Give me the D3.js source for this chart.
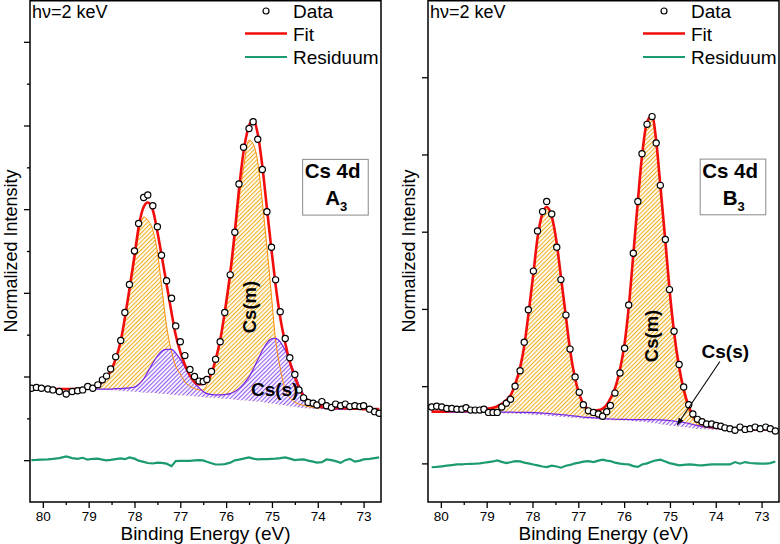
<!DOCTYPE html>
<html>
<head>
<meta charset="utf-8">
<script src="https://cdn.jsdelivr.net/npm/d3@7"></script>
<style>
  body { margin: 0; background: #fff; }
  svg { font-family: "Liberation Sans", Arial, sans-serif; }
</style>
</head>
<body>
<svg id="chart" width="780" height="544"></svg>
<script>
// ---- x axis (binding energy, eV) ----
var X_DOMAIN = [80.28, 72.62];
var X_MAJOR = [80, 79, 78, 77, 76, 75, 74, 73];
var X_MINOR = [79.5, 78.5, 77.5, 76.5, 75.5, 74.5, 73.5];

// ---- panel A3 ----
var ENERGY_A = [
  80.25, 80.14, 80.03, 79.89, 79.78, 79.64, 79.49, 79.36, 79.24, 79.13,
  79.02, 78.91, 78.80, 78.70, 78.61, 78.52, 78.41, 78.30, 78.21, 78.11,
  78.00, 77.91, 77.80, 77.71, 77.60, 77.50, 77.41, 77.30, 77.19, 77.10,
  77.00, 76.90, 76.79, 76.69, 76.59, 76.50, 76.42, 76.32, 76.23, 76.13,
  76.03, 75.91, 75.81, 75.72, 75.62, 75.50, 75.41, 75.31, 75.21, 75.11,
  75.01, 74.92, 74.82, 74.71, 74.61, 74.50, 74.41, 74.31, 74.21, 74.10,
  74.02, 73.91, 73.81, 73.70, 73.61, 73.50, 73.40, 73.30, 73.19, 73.08,
  73.00, 72.87, 72.76, 72.66];
var COUNTS_A = [
  2.72, 2.74, 2.72, 2.70, 2.68, 2.64, 2.58, 2.64, 2.66, 2.68,
  2.76, 2.72, 2.80, 2.92, 3.01, 3.18, 3.47, 3.86, 4.53, 5.20,
  6.00, 6.66, 7.28, 7.34, 7.08, 6.58, 5.90, 5.29, 4.87, 4.21,
  3.83, 3.50, 3.17, 3.00, 2.89, 2.88, 2.93, 3.12, 3.41, 3.83,
  4.53, 5.43, 6.45, 7.60, 8.48, 8.93, 9.09, 8.67, 7.95, 6.94,
  6.09, 5.31, 4.55, 3.91, 3.45, 3.05, 2.68, 2.49, 2.38, 2.36,
  2.32, 2.40, 2.30, 2.26, 2.34, 2.30, 2.34, 2.28, 2.30, 2.28,
  2.30, 2.22, 2.16, 2.12];
var FIT_A = [
  2.70, 2.70, 2.70, 2.70, 2.70, 2.70, 2.70, 2.70, 2.71, 2.72,
  2.73, 2.75, 2.79, 2.87, 2.99, 3.13, 3.42, 3.85, 4.40, 5.09,
  5.88, 6.57, 7.05, 7.16, 6.98, 6.46, 5.91, 5.21, 4.52, 3.99,
  3.59, 3.28, 3.02, 2.87, 2.81, 2.82, 2.89, 3.08, 3.40, 3.87,
  4.54, 5.48, 6.46, 7.46, 8.37, 8.99, 9.13, 8.80, 8.03, 7.03,
  6.02, 5.19, 4.42, 3.80, 3.35, 2.99, 2.73, 2.53, 2.42, 2.34,
  2.31, 2.28, 2.27, 2.26, 2.25, 2.25, 2.24, 2.24, 2.23, 2.23,
  2.22, 2.22, 2.22, 2.22];
var BG_A = [
  2.70, 2.70, 2.70, 2.70, 2.70, 2.70, 2.70, 2.70, 2.70, 2.70,
  2.70, 2.70, 2.70, 2.69, 2.69, 2.68, 2.67, 2.66, 2.65, 2.65,
  2.64, 2.63, 2.62, 2.61, 2.61, 2.60, 2.59, 2.58, 2.57, 2.56,
  2.55, 2.55, 2.54, 2.53, 2.52, 2.51, 2.50, 2.50, 2.49, 2.48,
  2.47, 2.46, 2.45, 2.44, 2.43, 2.42, 2.41, 2.40, 2.39, 2.37,
  2.36, 2.34, 2.33, 2.31, 2.29, 2.28, 2.26, 2.25, 2.24, 2.23,
  2.23, 2.22, 2.22, 2.22, 2.22, 2.22, 2.22, 2.22, 2.22, 2.22,
  2.22, 2.22, 2.22, 2.22];
// Cs(m) component on top of background
var CSM_A = [
  2.70, 2.70, 2.70, 2.70, 2.70, 2.70, 2.70, 2.70, 2.70, 2.70,
  2.71, 2.73, 2.76, 2.85, 2.96, 3.11, 3.40, 3.80, 4.33, 5.01,
  5.76, 6.40, 6.81, 6.74, 6.50, 5.98, 5.19, 4.21, 3.59, 3.25,
  3.06, 2.87, 2.77, 2.71, 2.68, 2.68, 2.80, 3.01, 3.32, 3.80,
  4.45, 5.33, 6.26, 7.20, 7.99, 8.65, 8.56, 8.13, 7.17, 6.10,
  4.93, 3.87, 3.20, 2.68, 2.49, 2.39, 2.34, 2.31, 2.28, 2.26,
  2.25, 2.24, 2.23, 2.22, 2.22, 2.22, 2.22, 2.22, 2.22, 2.22,
  2.22, 2.22, 2.22, 2.22];
// Cs(s) component on top of background
var CSS_A = [
  2.70, 2.70, 2.70, 2.70, 2.70, 2.70, 2.70, 2.70, 2.70, 2.70,
  2.70, 2.70, 2.70, 2.70, 2.70, 2.70, 2.71, 2.71, 2.72, 2.73,
  2.75, 2.81, 2.94, 3.11, 3.32, 3.49, 3.60, 3.65, 3.65, 3.56,
  3.41, 3.23, 3.01, 2.85, 2.73, 2.64, 2.59, 2.57, 2.56, 2.56,
  2.57, 2.59, 2.64, 2.71, 2.82, 2.99, 3.17, 3.40, 3.62, 3.80,
  3.90, 3.91, 3.83, 3.63, 3.37, 3.06, 2.80, 2.58, 2.44, 2.33,
  2.28, 2.25, 2.23, 2.22, 2.22, 2.22, 2.22, 2.22, 2.22, 2.22,
  2.22, 2.22, 2.22, 2.22];
var RESID_A = [
  0, 0.005, 0.014, 0.017, 0.029, 0.048, 0.091, 0.048, 0.031, 0.057,
  0.012, 0.033, 0.036, 0.012, -0.005, 0.005, 0.024, 0.041, 0.024, 0.065,
  0.036, -0.012, -0.041, -0.067, -0.079, -0.060, -0.065, -0.084, -0.143, -0.024,
  -0.017, -0.019, -0.017, -0.007, 0, -0.005, -0.036, -0.072, -0.103, -0.103,
  -0.096, -0.060, -0.005, 0.012, 0.036, 0.065, 0.036, 0.017, 0.024, 0.024,
  0.031, 0.036, 0.048, 0.065, 0.036, 0, 0.012, 0.017, -0.012, -0.036,
  -0.060, -0.048, 0.017, 0, -0.024, -0.065, 0, 0.031, -0.036, -0.012,
  0.017, 0.031, 0.048, 0.065];
var RESID_OFFSET_A = 1;
var Y_DOMAIN_A = [0, 12];
var Y_MAJOR_A = [1, 3, 5, 7, 9, 11];
var Y_MINOR_A = [2, 4, 6, 8, 10];

// ---- panel B3 ----
var ENERGY_B = [
  80.20, 80.09, 79.98, 79.87, 79.76, 79.65, 79.54, 79.45, 79.35, 79.25,
  79.15, 79.06, 78.96, 78.86, 78.77, 78.67, 78.57, 78.48, 78.38, 78.27,
  78.18, 78.09, 77.98, 77.89, 77.78, 77.69, 77.58, 77.47, 77.38, 77.27,
  77.18, 77.07, 76.98, 76.89, 76.78, 76.67, 76.56, 76.47, 76.38, 76.30,
  76.20, 76.09, 75.99, 75.90, 75.80, 75.70, 75.61, 75.50, 75.39, 75.30,
  75.21, 75.10, 75.01, 74.91, 74.80, 74.70, 74.59, 74.50, 74.40, 74.30,
  74.20, 74.09, 73.99, 73.89, 73.80, 73.69, 73.58, 73.47, 73.36, 73.25,
  73.14, 73.03, 72.91, 72.81, 72.70];
var COUNTS_B = [
  0.73, 0.74, 0.73, 0.71, 0.71, 0.70, 0.70, 0.72, 0.69, 0.69,
  0.69, 0.70, 0.66, 0.66, 0.66, 0.73, 0.78, 0.83, 1.00, 1.20,
  1.57, 1.99, 2.49, 3.01, 3.26, 3.39, 3.23, 2.80, 2.38, 1.92,
  1.48, 1.12, 0.92, 0.76, 0.68, 0.66, 0.64, 0.61, 0.67, 0.75,
  0.91, 1.17, 1.49, 2.05, 2.72, 3.39, 4.01, 4.39, 4.49, 4.15,
  3.60, 2.90, 2.25, 1.71, 1.28, 0.99, 0.76, 0.64, 0.57, 0.54,
  0.51, 0.51, 0.49, 0.48, 0.46, 0.45, 0.43, 0.47, 0.44, 0.45,
  0.47, 0.45, 0.47, 0.45, 0.42];
var FIT_B = [
  0.67, 0.67, 0.67, 0.67, 0.68, 0.68, 0.68, 0.68, 0.68, 0.69,
  0.69, 0.70, 0.71, 0.72, 0.74, 0.77, 0.82, 0.88, 1.02, 1.24,
  1.52, 1.92, 2.46, 2.92, 3.24, 3.32, 3.20, 2.85, 2.42, 1.90,
  1.47, 1.10, 0.90, 0.77, 0.70, 0.68, 0.69, 0.71, 0.76, 0.84,
  0.97, 1.22, 1.55, 2.02, 2.70, 3.40, 3.98, 4.42, 4.50, 4.18,
  3.60, 2.88, 2.26, 1.70, 1.25, 0.96, 0.74, 0.62, 0.55, 0.51,
  0.49, 0.475, 0.465, 0.46, 0.455, 0.45, 0.45, 0.445, 0.445, 0.445,
  0.44, 0.44, 0.44, 0.44, 0.44];
var BG_B = [
  0.66, 0.66, 0.66, 0.66, 0.66, 0.66, 0.66, 0.66, 0.66, 0.66,
  0.66, 0.66, 0.655, 0.655, 0.65, 0.65, 0.65, 0.645, 0.645, 0.64,
  0.64, 0.635, 0.63, 0.63, 0.625, 0.62, 0.615, 0.61, 0.605, 0.60,
  0.595, 0.59, 0.585, 0.58, 0.578, 0.575, 0.572, 0.57, 0.567, 0.563,
  0.56, 0.557, 0.555, 0.552, 0.548, 0.543, 0.538, 0.532, 0.525, 0.518,
  0.51, 0.50, 0.492, 0.485, 0.477, 0.47, 0.462, 0.456, 0.45, 0.445,
  0.442, 0.44, 0.438, 0.437, 0.436, 0.435, 0.435, 0.435, 0.435, 0.435,
  0.435, 0.435, 0.435, 0.435, 0.435];
var CSM_B = [
  0.665, 0.665, 0.665, 0.665, 0.675, 0.675, 0.675, 0.675, 0.675, 0.685,
  0.685, 0.695, 0.70, 0.71, 0.725, 0.755, 0.805, 0.86, 1.00, 1.22,
  1.50, 1.895, 2.43, 2.895, 3.21, 3.29, 3.17, 2.82, 2.39, 1.87,
  1.445, 1.08, 0.88, 0.75, 0.683, 0.665, 0.677, 0.70, 0.75, 0.828,
  0.958, 1.207, 1.535, 2.004, 2.68, 3.376, 3.95, 4.385, 4.46, 4.13,
  3.55, 2.82, 2.20, 1.64, 1.19, 0.90, 0.685, 0.573, 0.51, 0.477,
  0.464, 0.455, 0.451, 0.451, 0.449, 0.446, 0.448, 0.444, 0.445, 0.445,
  0.44, 0.44, 0.44, 0.44, 0.44];
var CSS_B = [
  0.665, 0.665, 0.665, 0.665, 0.665, 0.665, 0.665, 0.665, 0.665, 0.665,
  0.665, 0.665, 0.665, 0.665, 0.665, 0.665, 0.665, 0.665, 0.662, 0.66,
  0.66, 0.66, 0.658, 0.655, 0.652, 0.648, 0.643, 0.637, 0.632, 0.627,
  0.62, 0.613, 0.607, 0.60, 0.595, 0.59, 0.585, 0.58, 0.577, 0.575,
  0.572, 0.57, 0.57, 0.568, 0.567, 0.567, 0.567, 0.567, 0.566, 0.565,
  0.563, 0.56, 0.555, 0.548, 0.54, 0.53, 0.517, 0.503, 0.49, 0.478,
  0.468, 0.46, 0.452, 0.446, 0.442, 0.439, 0.437, 0.436, 0.435, 0.435,
  0.435, 0.435, 0.435, 0.435, 0.435];
var RESID_B = [
  -0.05, -0.045, -0.038, -0.03, -0.022, -0.013, -0.012, -0.008, -0.006, -0.004,
  0.0, 0.008, 0.017, 0.025, 0.039, 0.02, 0.004, 0.015, 0.028, 0.025,
  0.01, 0.0, -0.015, -0.026, -0.04, -0.048, -0.03, -0.04, -0.056, -0.03,
  -0.02, 0.0, 0.01, 0.022, 0.03, 0.017, 0.035, 0.048, 0.035, 0.03,
  0.01, -0.004, -0.01, -0.013, -0.035, -0.045, -0.015, 0.0, 0.025, 0.04,
  0.048, 0.025, 0.004, -0.01, -0.026, -0.02, -0.013, -0.015, -0.022, -0.026,
  -0.02, -0.013, -0.013, -0.013, -0.013, -0.013, 0.017, -0.004, 0.017, 0.005,
  0.0, -0.004, -0.004, 0.004, 0.025];
var RESID_OFFSET_B = 0;
var Y_DOMAIN_B = [-0.5, 6];
var Y_MAJOR_B = [0, 1, 2, 3, 4, 5];
var Y_MINOR_B = [];

// annotation anchors, in data coordinates [eV, intensity]
var NOTE_A = { box: [74.33, 8.19], sample: "A", csm: [75.35, 4.66], css: [74.94, 2.53], cssAnchor: "middle", arrow: null };
var NOTE_B = { box: [74.34, 3.94], sample: "B", csm: [75.25, 1.65], css: [74.31, 1.36], cssAnchor: "start", arrow: [[73.91, 1.32], [74.84, 0.50]] };

// ---- layout ----
var W = 351, H = 502, TOP = 0;
var colors = {
  fit: "#f20d0d", resid: "#1c9c6c",
  mHatch: "#f0ae1c", mLine: "#ff8a00",
  sHatch: "#8d55f2", sLine: "#7424e6"
};

var panels = [
  { left: 30, E: ENERGY_A, I: COUNTS_A, fit: FIT_A, bg: BG_A, csm: CSM_A, css: CSS_A,
    res: RESID_A, resOff: RESID_OFFSET_A, yDom: Y_DOMAIN_A, yMajor: Y_MAJOR_A, yMinor: Y_MINOR_A, note: NOTE_A },
  { left: 428, E: ENERGY_B, I: COUNTS_B, fit: FIT_B, bg: BG_B, csm: CSM_B, css: CSS_B,
    res: RESID_B, resOff: RESID_OFFSET_B, yDom: Y_DOMAIN_B, yMajor: Y_MAJOR_B, yMinor: Y_MINOR_B, note: NOTE_B }
];

var svg = d3.select("#chart");
var defs = svg.append("defs");

function hatch(id, color) {
  var p = defs.append("pattern").attr("id", id)
      .attr("patternUnits", "userSpaceOnUse")
      .attr("width", 3).attr("height", 3)
      .attr("patternTransform", "rotate(-45)");
  p.append("rect").attr("width", 3).attr("height", 3).attr("fill", "#fff");
  p.append("line").attr("x1", 0).attr("x2", 3).attr("y1", 0.6).attr("y2", 0.6)
      .attr("stroke", color).attr("stroke-width", 1.1);
}
hatch("hatchM", colors.mHatch);
hatch("hatchS", colors.sHatch);

defs.append("marker").attr("id", "arrowhead")
    .attr("viewBox", "0 0 10 10").attr("refX", 9).attr("refY", 5)
    .attr("markerWidth", 7).attr("markerHeight", 7).attr("orient", "auto")
  .append("path").attr("d", "M0,1.5 L10,5 L0,8.5 Z").attr("fill", "#000");

panels.forEach(function (p, k) {
  var x = d3.scaleLinear().domain(X_DOMAIN).range([p.left, p.left + W]);
  var y = d3.scaleLinear().domain(p.yDom).range([TOP + H, TOP]);
  var idx = d3.range(p.E.length);

  defs.append("clipPath").attr("id", "clip" + k)
    .append("rect").attr("x", p.left).attr("y", TOP).attr("width", W).attr("height", H);
  var plot = svg.append("g").attr("clip-path", "url(#clip" + k + ")");

  var areaOf = function (top) {
    return d3.area().curve(d3.curveMonotoneX)
      .x(function (i) { return x(p.E[i]); })
      .y0(function (i) { return y(p.bg[i]); })
      .y1(function (i) { return y(top[i]); });
  };
  var lineOf = function (vals) {
    return d3.line().curve(d3.curveMonotoneX)
      .x(function (i) { return x(p.E[i]); })
      .y(function (i) { return y(vals[i]); });
  };

  // components: Cs(m) under Cs(s), both hatched
  plot.append("path").datum(idx).attr("d", areaOf(p.csm)).attr("fill", "url(#hatchM)");
  plot.append("path").datum(idx).attr("d", areaOf(p.css)).attr("fill", "url(#hatchS)");
  plot.append("path").datum(idx).attr("d", lineOf(p.csm)).attr("fill", "none")
      .attr("stroke", colors.mLine).attr("stroke-width", 1);
  plot.append("path").datum(idx).attr("d", lineOf(p.css)).attr("fill", "none")
      .attr("stroke", colors.sLine).attr("stroke-width", 1.2);

  // fit
  plot.append("path").datum(idx).attr("d", lineOf(p.fit)).attr("fill", "none")
      .attr("stroke", colors.fit).attr("stroke-width", 2.6);

  // residual
  plot.append("path").datum(idx)
      .attr("d", d3.line().x(function (i) { return x(p.E[i]); })
                          .y(function (i) { return y(p.res[i] + p.resOff); }))
      .attr("fill", "none").attr("stroke", colors.resid).attr("stroke-width", 2.2);

  // data
  plot.selectAll("circle.pt").data(idx).enter().append("circle").attr("class", "pt")
      .attr("cx", function (i) { return x(p.E[i]); })
      .attr("cy", function (i) { return y(p.I[i]); })
      .attr("r", 3.1).attr("fill", "#fff").attr("stroke", "#000").attr("stroke-width", 1.2);

  // axes
  var g = svg.append("g");
  var xa = g.append("g").attr("transform", "translate(0," + (TOP + H) + ")")
      .call(d3.axisBottom(x).tickValues(X_MAJOR).tickSize(6).tickPadding(3).tickFormat(d3.format("d")));
  g.append("g").attr("transform", "translate(0," + (TOP + H) + ")")
      .call(d3.axisBottom(x).tickValues(X_MINOR).tickSize(3).tickFormat(""));
  g.append("g").attr("transform", "translate(" + p.left + ",0)")
      .call(d3.axisLeft(y).tickValues(p.yMajor).tickSize(6).tickFormat(""));
  g.append("g").attr("transform", "translate(" + p.left + ",0)")
      .call(d3.axisLeft(y).tickValues(p.yMinor).tickSize(3).tickFormat(""));
  g.selectAll(".domain").remove();
  g.selectAll(".tick line").attr("stroke", "#000").attr("stroke-width", 1.3);
  xa.selectAll("text").attr("font-size", "13.5px").attr("fill", "#000")
      .attr("font-family", "Liberation Sans, Arial, sans-serif");

  svg.append("rect").attr("x", p.left).attr("y", TOP + 0.75).attr("width", W).attr("height", H - 0.75)
      .attr("fill", "none").attr("stroke", "#000").attr("stroke-width", 1.5);

  // axis titles
  svg.append("text").attr("x", p.left + W / 2).attr("y", 540).attr("text-anchor", "middle")
      .attr("font-size", "19px").text("Binding Energy (eV)");
  svg.append("text").attr("transform", "translate(" + (p.left - 13.5) + ",251) rotate(-90)")
      .attr("text-anchor", "middle").attr("font-size", "18px").text("Normalized Intensity");

  // photon energy
  svg.append("text").attr("x", p.left + 2).attr("y", 18).attr("font-size", "18px").text("h\u03bd=2 keV");

  // legend
  var lg = svg.append("g").attr("transform", "translate(" + p.left + ",0)").attr("font-size", "19px");
  lg.append("circle").attr("cx", 236).attr("cy", 11).attr("r", 3)
      .attr("fill", "#fff").attr("stroke", "#000").attr("stroke-width", 1.2);
  lg.append("line").attr("x1", 215).attr("x2", 257).attr("y1", 33.5).attr("y2", 33.5)
      .attr("stroke", colors.fit).attr("stroke-width", 2.6);
  lg.append("line").attr("x1", 215).attr("x2", 257).attr("y1", 57).attr("y2", 57)
      .attr("stroke", colors.resid).attr("stroke-width", 2.2);
  lg.append("text").attr("x", 263).attr("y", 17.5).text("Data");
  lg.append("text").attr("x", 263).attr("y", 40.5).text("Fit");
  lg.append("text").attr("x", 263).attr("y", 64).text("Residuum");

  // sample box
  var n = p.note;
  var bx = x(n.box[0]), by = y(n.box[1]);
  svg.append("rect").attr("x", bx).attr("y", by).attr("width", 65.6).attr("height", 55.7)
      .attr("fill", "#fff").attr("stroke", "#8a8a8a").attr("stroke-width", 1);
  svg.append("text").attr("x", bx + 2).attr("y", by + 19).attr("font-size", "20.5px")
      .attr("font-weight", "bold").text("Cs 4d");
  var st = svg.append("text").attr("x", bx + 22.5).attr("y", by + 46).attr("font-size", "20.5px")
      .attr("font-weight", "bold");
  st.append("tspan").text(n.sample);
  st.append("tspan").attr("dy", 6).attr("font-size", "13px").text("3");

  // component labels
  svg.append("text").attr("transform", "translate(" + x(n.csm[0]) + "," + y(n.csm[1]) + ") rotate(-90)")
      .attr("text-anchor", "middle").attr("font-size", "18.5px").attr("font-weight", "bold").text("Cs(m)");
  svg.append("text").attr("x", x(n.css[0])).attr("y", y(n.css[1])).attr("text-anchor", n.cssAnchor)
      .attr("font-size", "19px").attr("font-weight", "bold").text("Cs(s)");
  if (n.arrow) {
    svg.append("line")
        .attr("x1", x(n.arrow[0][0])).attr("y1", y(n.arrow[0][1]))
        .attr("x2", x(n.arrow[1][0])).attr("y2", y(n.arrow[1][1]))
        .attr("stroke", "#000").attr("stroke-width", 1.1).attr("marker-end", "url(#arrowhead)");
  }
});
</script>
</body>
</html>
